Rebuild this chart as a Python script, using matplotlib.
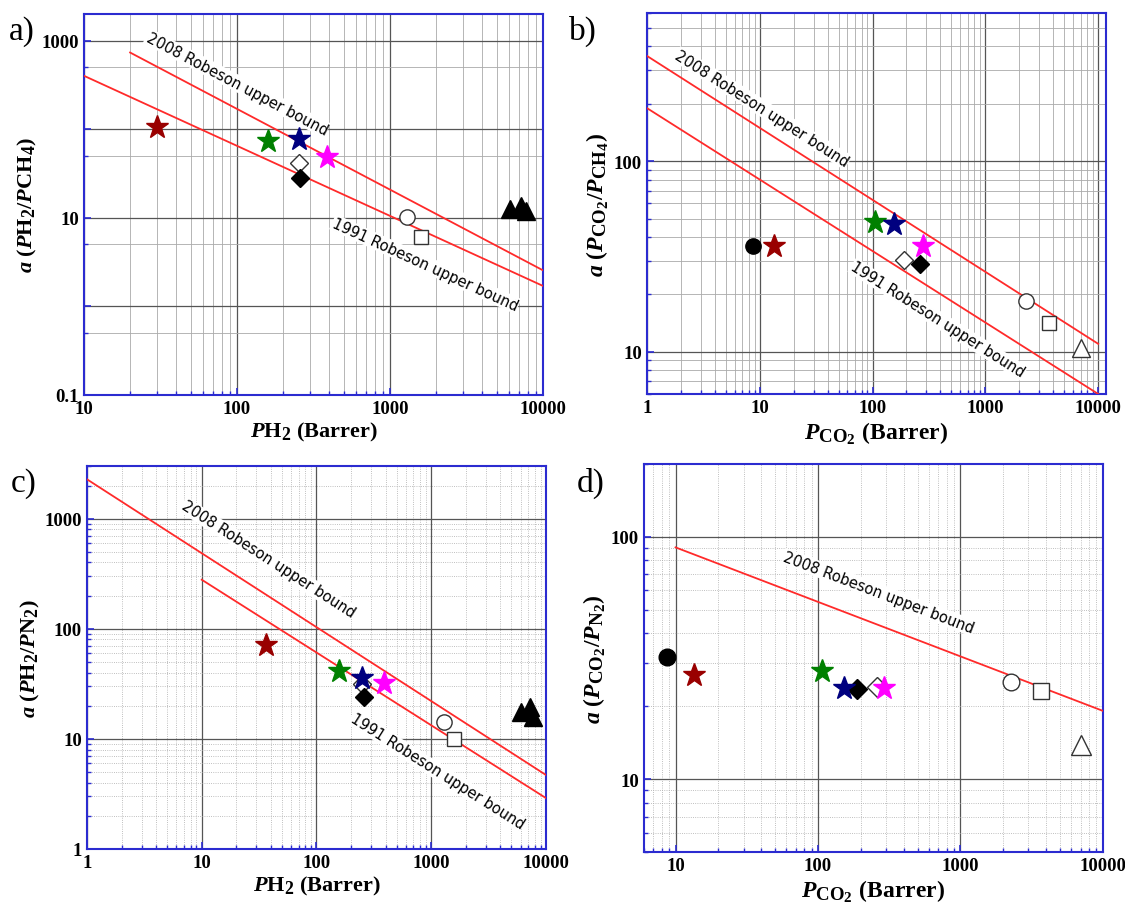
import math
import matplotlib
matplotlib.use('Agg')
import matplotlib.pyplot as plt
from matplotlib.ticker import LogLocator, FuncFormatter, NullFormatter

try:
    import matplotlib._mathtext as _mt
    _mt.SHRINK_FACTOR = 0.8
except Exception:
    pass

plt.rcParams['font.family'] = ['Liberation Serif', 'DejaVu Serif']
plt.rcParams['font.weight'] = 'bold'
plt.rcParams['mathtext.fontset'] = 'custom'
plt.rcParams['mathtext.rm'] = 'Liberation Serif:bold'
plt.rcParams['mathtext.it'] = 'Liberation Serif:italic:bold'
plt.rcParams['mathtext.bf'] = 'Liberation Serif:bold'

# ---------------- data ----------------
# stars order: dark red, green, navy, magenta
# Panel a: H2/CH4
a_star_x = [29.8, 159, 253, 388]
a_star_y = [106, 73, 77, 48]
a_open_diamond = ([255], [42])
a_filled_diamond = ([258], [28])
a_open_circle = ([1286], [10.3])
a_open_square = ([1603], [6.06])
a_filled_triangle = ([6083, 7228, 7745], [12.7, 13.5, 11.9])
a_line2008 = ([20, 10000], [733, 2.55])
a_line1991 = ([10, 10000], [400, 1.70])

# Panel b: CO2/CH4
b_star_x = [13.5, 105, 155, 281]
b_star_y = [36, 48, 46.7, 36]
b_filled_circle = ([8.75], [36])
b_open_diamond = ([189], [30.4])
b_filled_diamond = ([263], [28.9])
b_open_circle = ([2285], [18.5])
b_open_square = ([3664], [14.2])
b_open_triangle = ([7020], [10.4])
b_line2008 = ([1, 10000], [357, 11])
b_line1991 = ([1, 10000], [190, 6.0])

# Panel c: H2/N2
c_star_x = [36.2, 157, 250, 384]
c_star_y = [70.5, 41, 36, 32.3]
c_open_diamond = ([250], [31.4])
c_filled_diamond = ([259], [23.9])
c_open_circle = ([1280], [14.2])
c_open_square = ([1587], [10])
c_filled_triangle = ([6060, 7245, 7680], [17.5, 19.4, 15.7])
c_line2008 = ([1, 10000], [2278, 4.7])
c_line1991 = ([10, 10000], [279, 2.9])

# Panel d: CO2/N2
d_star_x = [13.4, 106, 153, 289]
d_star_y = [26.8, 27.9, 23.8, 23.8]
d_filled_circle = ([8.7], [31.9])
d_filled_diamond = ([188], [23.5])
d_open_diamond = ([258], [24])
d_open_circle = ([2280], [25.1])
d_open_square = ([3664], [23.1])
d_open_triangle = ([7020], [13.8])
d_line2008 = ([10, 10000], [90.3, 19.1])

STAR_COLORS = ['#990000', '#008000', '#00007f', '#ff00ff']
LINE_RED = '#ff2a2a'
BLUE = '#2b2bd0'

fig = plt.figure(figsize=(11.25, 9.03), dpi=100)


def fmt(v, pos):
    return '%g' % v


def setup(ax, xlim, ylim, ylabels, ysubs, minor_ls='-'):
    ax.set_xscale('log')
    ax.set_yscale('log')
    ax.set_xlim(*xlim)
    ax.set_ylim(*ylim)
    ax.xaxis.set_major_locator(LogLocator(base=10, numticks=20))
    ax.xaxis.set_minor_locator(LogLocator(base=10, subs=range(2, 10), numticks=100))
    ax.yaxis.set_major_locator(LogLocator(base=10, numticks=20))
    ax.yaxis.set_minor_locator(LogLocator(base=10, subs=ysubs, numticks=100))
    ax.xaxis.set_major_formatter(FuncFormatter(fmt))
    ax.yaxis.set_major_formatter(FuncFormatter(
        lambda v, p: ('%g' % v) if any(abs(math.log10(v) - math.log10(l)) < 1e-6 for l in ylabels) else ''))
    ax.xaxis.set_minor_formatter(NullFormatter())
    ax.yaxis.set_minor_formatter(NullFormatter())
    ax.grid(which='major', color='#555555', lw=0.9, zorder=0)
    ax.grid(which='minor', color='#aaaaaa', lw=0.6, ls=minor_ls, zorder=0)
    ax.set_axisbelow(True)
    ax.tick_params(which='both', direction='in', colors=BLUE, labelcolor='black',
                   labelsize=13.5, top=False, right=False)
    ax.tick_params(which='major', length=5, width=1.2)
    ax.tick_params(which='minor', length=3, width=1.0)
    for s in ax.spines.values():
        s.set_color(BLUE)
        s.set_linewidth(1.5)


def angle_of(ax, line):
    (x1, x2), (y1, y2) = line
    p1 = ax.transData.transform((x1, y1))
    p2 = ax.transData.transform((x2, y2))
    return math.degrees(math.atan2(p2[1] - p1[1], p2[0] - p1[0]))


def bound_label(ax, text, x, y, line):
    ax.text(x, y, text, rotation=angle_of(ax, line), rotation_mode='anchor',
            ha='center', va='center', fontsize=10.5, family='DejaVu Sans',
            fontweight='normal', zorder=4,
            bbox=dict(facecolor='white', edgecolor='none', pad=0.5))


def stars(ax, xs, ys):
    for x, y, c in zip(xs, ys, STAR_COLORS):
        ax.plot([x], [y], marker='*', ms=17, color=c, mec=c, ls='none', zorder=6)


def pts(ax, data, marker, filled, ms):
    xs, ys = data
    ax.plot(xs, ys, marker=marker, ms=ms, ls='none', mew=1.0,
            mfc=('black' if filled else 'white'), mec=('black' if filled else '#333333'), zorder=5)


# ---------------- panel a ----------------
ax = fig.add_axes([0.0747, 0.5615, 0.408, 0.422])
setup(ax, (10, 10000), (0.1, 2000), [0.1, 10, 1000], (5.0,))
ax.plot(*a_line2008, color=LINE_RED, lw=1.3, zorder=3)
ax.plot(*a_line1991, color=LINE_RED, lw=1.3, zorder=3)
pts(ax, a_open_diamond, 'D', False, 9)
pts(ax, a_filled_diamond, 'D', True, 9)
pts(ax, a_open_circle, 'o', False, 11)
pts(ax, a_open_square, 's', False, 10)
pts(ax, a_filled_triangle, '^', True, 13)
stars(ax, a_star_x, a_star_y)
bound_label(ax, '2008 Robeson upper bound', 100, 330, a_line2008)
bound_label(ax, '1991 Robeson upper bound', 1700, 3.0, a_line1991)
ax.set_xlabel(r'$P\mathrm{H}_2\ \mathrm{(Barrer)}$', fontsize=16, labelpad=2)
ax.set_ylabel(r'$a\ (P\mathrm{H}_2/P\mathrm{CH}_4)$', fontsize=16, labelpad=2)

# ---------------- panel b ----------------
ax = fig.add_axes([0.575, 0.5626, 0.408, 0.422])
setup(ax, (1, 11700), (6, 600), [10, 100], range(2, 10))
ax.plot(*b_line2008, color=LINE_RED, lw=1.3, zorder=3)
ax.plot(*b_line1991, color=LINE_RED, lw=1.3, zorder=3)
pts(ax, b_filled_circle, 'o', True, 11)
pts(ax, b_open_diamond, 'D', False, 9)
pts(ax, b_filled_diamond, 'D', True, 9)
pts(ax, b_open_circle, 'o', False, 11)
pts(ax, b_open_square, 's', False, 10)
pts(ax, b_open_triangle, '^', False, 13)
stars(ax, b_star_x, b_star_y)
bound_label(ax, '2008 Robeson upper bound', 10.5, 190, b_line2008)
bound_label(ax, '1991 Robeson upper bound', 380, 14.8, b_line1991)
ax.set_xlabel(r'$P_{\mathrm{CO}_2}\ \mathrm{(Barrer)}$', fontsize=17, labelpad=2)
ax.set_ylabel(r'$a\ (P_{\mathrm{CO}_2}/P_{\mathrm{CH}_4})$', fontsize=17, labelpad=2)

# ---------------- panel c ----------------
ax = fig.add_axes([0.0773, 0.0587, 0.408, 0.424])
setup(ax, (1, 10000), (1, 3000), [1, 10, 100, 1000], range(2, 10), minor_ls=':')
ax.plot(*c_line2008, color=LINE_RED, lw=1.3, zorder=3)
ax.plot(*c_line1991, color=LINE_RED, lw=1.3, zorder=3)
pts(ax, c_open_diamond, 'D', False, 9)
pts(ax, c_filled_diamond, 'D', True, 9)
pts(ax, c_open_circle, 'o', False, 11)
pts(ax, c_open_square, 's', False, 10)
pts(ax, c_filled_triangle, '^', True, 13)
stars(ax, c_star_x, c_star_y)
bound_label(ax, '2008 Robeson upper bound', 38, 430, c_line2008)
bound_label(ax, '1991 Robeson upper bound', 1130, 5.1, c_line1991)
ax.set_xlabel(r'$P\mathrm{H}_2\ \mathrm{(Barrer)}$', fontsize=16, labelpad=2)
ax.set_ylabel(r'$a\ (P\mathrm{H}_2/P\mathrm{N}_2)$', fontsize=16, labelpad=2)

# ---------------- panel d ----------------
ax = fig.add_axes([0.5724, 0.0554, 0.408, 0.43])
setup(ax, (6, 10000), (5, 200), [10, 100], range(2, 10), minor_ls=':')
ax.plot(*d_line2008, color=LINE_RED, lw=1.3, zorder=3)
pts(ax, d_filled_circle, 'o', True, 12)
pts(ax, d_filled_diamond, 'D', True, 10)
pts(ax, d_open_diamond, 'D', False, 10)
pts(ax, d_open_circle, 'o', False, 12)
pts(ax, d_open_square, 's', False, 11)
pts(ax, d_open_triangle, '^', False, 14)
stars(ax, d_star_x, d_star_y)
bound_label(ax, '2008 Robeson upper bound', 267, 59, d_line2008)
ax.set_xlabel(r'$P_{\mathrm{CO}_2}\ \mathrm{(Barrer)}$', fontsize=17, labelpad=2)
ax.set_ylabel(r'$a\ (P_{\mathrm{CO}_2}/P_{\mathrm{N}_2})$', fontsize=17, labelpad=2)

# panel letters
for x, y, t in [(0.008, 0.982, 'a)'), (0.506, 0.982, 'b)'),
                (0.010, 0.482, 'c)'), (0.513, 0.482, 'd)')]:
    fig.text(x, y, t, fontsize=24, fontweight='normal', va='top', ha='left')

fig.savefig('out.png', dpi=100)
